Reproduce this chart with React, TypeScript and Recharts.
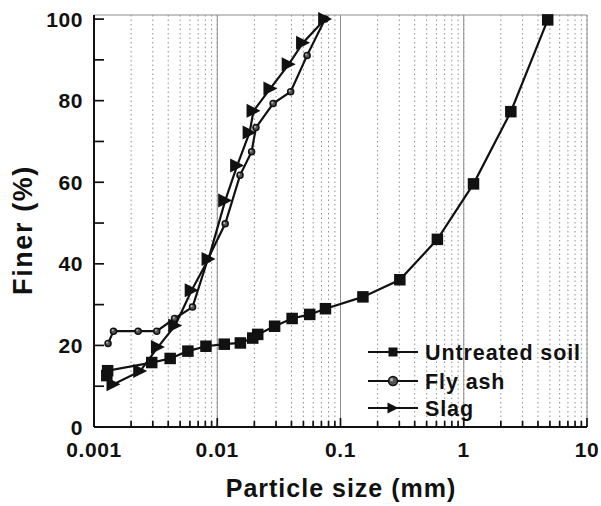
import React from 'react';
import {
  LineChart, Line, XAxis, YAxis, CartesianGrid, ReferenceLine, Legend,
} from 'recharts';

// Particle size distribution: untreated soil, fly ash, slag (log x-axis)

const FONT = '"Liberation Sans", Arial, Helvetica, sans-serif';

const SOIL_SIZE = [0.00127, 0.00129, 0.00294, 0.00415, 0.00578, 0.0081, 0.0114, 0.0154, 0.0194, 0.0213, 0.0292, 0.0405, 0.0563, 0.0755, 0.152, 0.303, 0.611, 1.2, 2.41, 4.8];
const SOIL_FINER = [12.6, 13.8, 15.8, 16.8, 18.6, 19.8, 20.3, 20.6, 21.8, 22.7, 24.7, 26.6, 27.6, 29.0, 31.9, 36.1, 46.0, 59.6, 77.3, 99.8];

const FLYASH_SIZE = [0.0013, 0.00144, 0.00228, 0.00323, 0.0045, 0.0063, 0.0084, 0.0116, 0.0153, 0.019, 0.0206, 0.0284, 0.0394, 0.0536, 0.075];
const FLYASH_FINER = [20.5, 23.5, 23.5, 23.5, 26.6, 29.4, 41.2, 49.8, 61.7, 67.5, 73.4, 79.3, 82.2, 91.1, 100];

const SLAG_SIZE = [0.00144, 0.00237, 0.0033, 0.00456, 0.0062, 0.0085, 0.0116, 0.0145, 0.0183, 0.0197, 0.027, 0.038, 0.0497, 0.075];
const SLAG_FINER = [10.5, 13.7, 19.6, 24.9, 33.5, 41.2, 55.5, 64.1, 72.2, 77.5, 83.0, 88.9, 94.2, 100];

const DECADES = [0.001, 0.01, 0.1, 1, 10];
const DECADE_LABELS = ['0.001', '0.01', '0.1', '1', '10'];
const MULTIPLIERS = [1, 2, 3, 4, 5, 6, 7, 8, 9];
const Y_TICKS = [0, 10, 20, 30, 40, 50, 60, 70, 80, 90, 100];
const Y_LABELED = [0, 20, 40, 60, 80, 100];

const X_TICKS = [
  ...DECADES.slice(0, -1).flatMap((d) => MULTIPLIERS.map((m) => d * m)),
  DECADES[DECADES.length - 1],
];

const toRows = (xs: number[], ys: number[]) => xs.map((x, i) => ({ x, y: ys[i] }));
const soilData = toRows(SOIL_SIZE, SOIL_FINER);
const flyAshData = toRows(FLYASH_SIZE, FLYASH_FINER);
const slagData = toRows(SLAG_SIZE, SLAG_FINER);

const tickText = { fontFamily: FONT, fontWeight: 700, fontSize: 21, letterSpacing: 0.6, fill: '#111' };

function decadeIndex(v: number) {
  return DECADES.findIndex((d) => Math.abs(d - v) / d < 1e-6);
}

function XTick({ x, y, payload }: any) {
  const idx = decadeIndex(payload.value);
  const len = idx >= 0 ? 9 : 6;
  return (
    <g>
      <line x1={x} x2={x} y1={y} y2={y - len} stroke="#111" strokeWidth={1.7} />
      {idx >= 0 && (
        <text x={x} y={y + 30} textAnchor="middle" {...tickText}>{DECADE_LABELS[idx]}</text>
      )}
    </g>
  );
}

function YTick({ x, y, payload }: any) {
  const show = Y_LABELED.includes(payload.value);
  return (
    <g>
      <line x1={x} x2={x + 10} y1={y} y2={y} stroke="#111" strokeWidth={1.7} />
      {show && (
        <text x={x - 11} y={y + 7.5} textAnchor="end" {...tickText}>{payload.value}</text>
      )}
    </g>
  );
}

function SquareDot({ cx, cy, index, size = 11.5 }: any) {
  if (cx == null || cy == null) return null;
  return <rect key={`s${index}`} x={cx - size / 2} y={cy - size / 2} width={size} height={size} fill="#111" />;
}

function BallDot({ cx, cy, index, r = 5.8 }: any) {
  if (cx == null || cy == null) return null;
  return (
    <g key={`c${index}`}>
      <circle cx={cx} cy={cy} r={r} fill="#555" stroke="#111" strokeWidth={1.5} />
      <circle cx={cx - r * 0.3} cy={cy - r * 0.3} r={r * 0.35} fill="#b5b5b5" />
    </g>
  );
}

function TriDot({ cx, cy, index, s = 7 }: any) {
  if (cx == null || cy == null) return null;
  const pts = `${cx - s},${cy - s} ${cx + s},${cy} ${cx - s},${cy + s}`;
  return <polygon key={`t${index}`} points={pts} fill="#111" />;
}

function LegendBox() {
  const rows = [
    { label: 'Untreated soil', y: 16, Dot: SquareDot, extra: { size: 9 } },
    { label: 'Fly ash', y: 45, Dot: BallDot, extra: { r: 4.5 } },
    { label: 'Slag', y: 72, Dot: TriDot, extra: { s: 5.5 } },
  ];
  return (
    <svg width={240} height={90} style={{ display: 'block' }}>
      {rows.map(({ label, y, Dot, extra }) => (
        <g key={label}>
          <line x1={8} x2={58} y1={y} y2={y} stroke="#111" strokeWidth={2} />
          <Dot cx={33} cy={y} index={0} {...extra} />
          <text x={65} y={y + 8} fontFamily={FONT} fontWeight={700} fontSize={21.5} letterSpacing={0.9} fill="#111">
            {label}
          </text>
        </g>
      ))}
    </svg>
  );
}

export default function App() {
  return (
    <div style={{ position: 'absolute', left: 0, top: 0, width: 601, height: 506, background: '#fff' }}>
      <LineChart width={601} height={506} margin={{ top: 15, right: 14, bottom: 0, left: 0 }}>
        <CartesianGrid horizontal={false} stroke="#8f8f8f" strokeDasharray="1.5 3" />
        {DECADES.slice(1).map((d) => (
          <ReferenceLine key={d} x={d} stroke="#8c8c8c" strokeWidth={1} />
        ))}
        <ReferenceLine y={101} stroke="#8c8c8c" strokeWidth={1} />
        <XAxis
          dataKey="x"
          type="number"
          scale="log"
          domain={[0.001, 10]}
          allowDataOverflow
          ticks={X_TICKS}
          interval={0}
          height={79}
          tickSize={0}
          tickMargin={0}
          tickLine={false}
          axisLine={{ stroke: '#111', strokeWidth: 2 }}
          tick={<XTick />}
          label={() => (
            <text x={341} y={497} textAnchor="middle" fontFamily={FONT} fontWeight={700} fontSize={25} letterSpacing={1} fill="#111">
              Particle size (mm)
            </text>
          )}
        />
        <YAxis
          dataKey="y"
          type="number"
          domain={[0, 101]}
          ticks={Y_TICKS}
          interval={0}
          width={94}
          tickSize={0}
          tickMargin={0}
          tickLine={false}
          axisLine={{ stroke: '#111', strokeWidth: 2 }}
          tick={<YTick />}
          label={() => (
            <text x={32} y={230} transform="rotate(-90 32 230)" textAnchor="middle" fontFamily={FONT} fontWeight={700} fontSize={27} letterSpacing={1.6} fill="#111">
              Finer (%)
            </text>
          )}
        />
        <Line data={soilData} dataKey="y" name="Untreated soil" stroke="#111" strokeWidth={2.2} dot={<SquareDot />} isAnimationActive={false} />
        <Line data={flyAshData} dataKey="y" name="Fly ash" stroke="#111" strokeWidth={2.2} dot={<BallDot />} isAnimationActive={false} />
        <Line data={slagData} dataKey="y" name="Slag" stroke="#111" strokeWidth={2.2} dot={<TriDot />} isAnimationActive={false} />
        <Legend
          layout="vertical"
          align="center"
          verticalAlign="middle"
          content={() => <LegendBox />}
          wrapperStyle={{ left: 360, top: 336, width: 240 }}
        />
      </LineChart>
    </div>
  );
}
